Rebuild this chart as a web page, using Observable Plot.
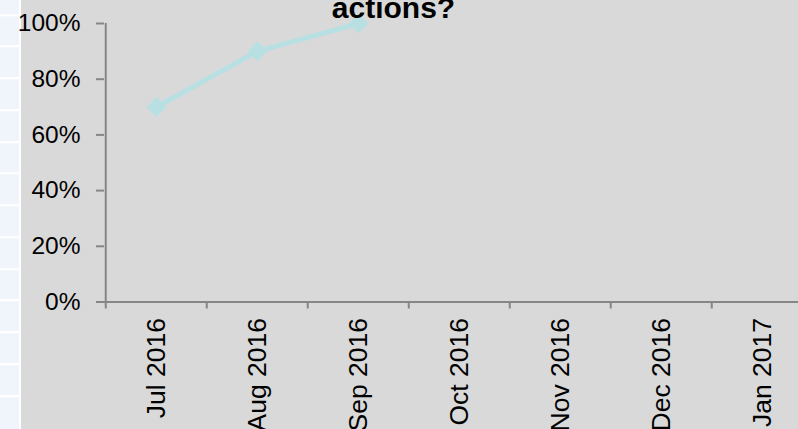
<!DOCTYPE html>
<html>
<head>
<meta charset="utf-8">
<script src="https://cdn.jsdelivr.net/npm/d3@7"></script>
<script src="https://cdn.jsdelivr.net/npm/@observablehq/plot@0.6"></script>
<style>
  html, body { margin: 0; padding: 0; background: #ffffff; }
  #wrap { position: relative; width: 798px; height: 429px; overflow: hidden; background: #d9d9d9; }
  #strip {
    position: absolute; left: 0; top: 0; width: 19px; height: 429px;
    border-right: 2px solid #ffffff;
    background: repeating-linear-gradient(to bottom, #eff5fa 0px, #eff5fa 29.75px, #ffffff 29.75px, #ffffff 31.75px);
    background-position: 0 -15.75px;
  }
  #chart { position: absolute; left: 0; top: 0; }
</style>
</head>
<body>
<div id="wrap"><div id="strip"></div><div id="chart"></div></div>
<script>
const months = ["Jul 2016", "Aug 2016", "Sep 2016", "Oct 2016", "Nov 2016", "Dec 2016", "Jan 2017"];
const values = [0.70, 0.90, 1.00];
const yTicks = [0, 0.2, 0.4, 0.6, 0.8, 1.0];
const titleText = "actions?";

const table = values.map((v, i) => ({month: months[i], value: v}));

const axisGrey = "#868686";
const lineColor = "#b8e0e3";
const half = (814.5 - 104) / months.length / 2;

const chart = Plot.plot({
  width: 798,
  height: 429,
  marginLeft: 104,
  marginRight: 0,
  marginTop: 23,
  marginBottom: 127.5,
  style: {background: "transparent", fontFamily: "'Liberation Sans', Arial, sans-serif", color: "#000"},
  x: {type: "point", domain: months, range: [104, 814.5], padding: 0.5, label: null},
  y: {domain: [0, 1], range: [301.5, 23], label: null},
  marks: [
    Plot.axisY({ticks: yTicks, tickSize: 8, tickFormat: () => "", stroke: axisGrey, strokeWidth: 2, label: null}),
    Plot.axisY({ticks: yTicks, tickSize: 0, tickPadding: 24, tickFormat: d3.format(".0%"), fontSize: 24.5, fill: "#000", label: null}),
    Plot.axisX({tickSize: 7, tickFormat: () => "", dx: -half, stroke: axisGrey, strokeWidth: 2, label: null}),
    Plot.axisX({tickSize: 0, tickPadding: 16, tickRotate: -90, fontSize: 26.5, fill: "#000", label: null}),
    Plot.ruleY([0], {stroke: axisGrey, strokeWidth: 2}),
    Plot.ruleX([months[0]], {dx: -half, stroke: axisGrey, strokeWidth: 2}),
    Plot.line(table, {x: "month", y: "value", stroke: lineColor, strokeWidth: 5}),
    Plot.dot(table, {x: "month", y: "value", symbol: "diamond2", r: 9, fill: lineColor, stroke: "none"}),
    Plot.text([titleText], {frameAnchor: "top-left", dx: 393 - 104, dy: 17 - 23, textAnchor: "middle", lineAnchor: "bottom", fontWeight: "bold", fontSize: 30, fill: "#000"})
  ]
});
document.getElementById("chart").appendChild(chart);
</script>
</body>
</html>
